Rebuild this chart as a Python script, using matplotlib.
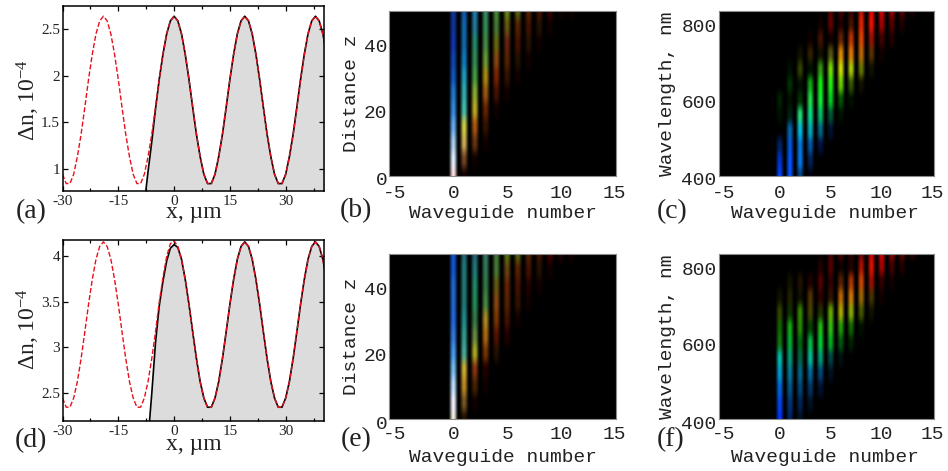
import numpy as np
import matplotlib
matplotlib.use("Agg")
import matplotlib.pyplot as plt
from matplotlib.colors import to_rgb
from matplotlib.ticker import FixedLocator
from matplotlib.transforms import ScaledTranslation

plt.rcParams['mathtext.fontset'] = 'custom'
plt.rcParams['mathtext.rm'] = 'Liberation Serif'
plt.rcParams['mathtext.default'] = 'rm'

W, H = 948, 471

# ---- profile panels (a), (d): refractive index change vs x ----
x_um = [-30, -29, -28, -27, -26, -25, -24, -23, -22, -21, -20, -19, -18, -17, -16, -15, -14, -13, -12, -11,
        -10, -9, -8, -7, -6, -5, -4, -3, -2, -1, 0, 1, 2, 3, 4, 5, 6, 7, 8, 9,
        10, 11, 12, 13, 14, 15, 16, 17, 18, 19, 20, 21, 22, 23, 24, 25, 26, 27, 28, 29,
        30, 31, 32, 33, 34, 35, 36, 37, 38, 39, 40, 41]
red_a = [0.94, 0.84, 0.84, 0.94, 1.13, 1.37, 1.66, 1.96, 2.23, 2.45, 2.59, 2.64, 2.59, 2.45, 2.23, 1.96, 1.66, 1.37, 1.13, 0.94,
         0.84, 0.84, 0.94, 1.13, 1.37, 1.66, 1.96, 2.23, 2.45, 2.59, 2.64, 2.59, 2.45, 2.23, 1.96, 1.66, 1.37, 1.13, 0.94, 0.84,
         0.84, 0.94, 1.13, 1.37, 1.66, 1.96, 2.23, 2.45, 2.59, 2.64, 2.59, 2.45, 2.23, 1.96, 1.66, 1.37, 1.13, 0.94, 0.84, 0.84,
         0.94, 1.13, 1.37, 1.66, 1.96, 2.23, 2.45, 2.59, 2.64, 2.59, 2.45, 2.23]
black_x_a = [-7.6, -7, -6, -5, -4, -3, -2, -1, 0, 1, 2, 3, 4, 5, 6, 7, 8, 9,
             10, 11, 12, 13, 14, 15, 16, 17, 18, 19, 20, 21, 22, 23, 24, 25, 26, 27, 28, 29,
             30, 31, 32, 33, 34, 35, 36, 37, 38, 39, 40, 41]
black_a = [0.76, 0.97, 1.29, 1.64, 1.96, 2.23, 2.45, 2.59, 2.64, 2.59, 2.45, 2.23, 1.96, 1.66, 1.37, 1.13, 0.94, 0.84,
           0.84, 0.94, 1.13, 1.37, 1.66, 1.96, 2.23, 2.45, 2.59, 2.64, 2.59, 2.45, 2.23, 1.96, 1.66, 1.37, 1.13, 0.94, 0.84, 0.84,
           0.94, 1.13, 1.37, 1.66, 1.96, 2.23, 2.45, 2.59, 2.64, 2.59, 2.45, 2.23]
red_d = [2.45, 2.35, 2.35, 2.45, 2.63, 2.88, 3.17, 3.47, 3.74, 3.96, 4.10, 4.15, 4.10, 3.96, 3.74, 3.47, 3.17, 2.88, 2.63, 2.45,
         2.35, 2.35, 2.45, 2.63, 2.88, 3.17, 3.49, 3.76, 3.99, 4.13, 4.16, 4.10, 3.96, 3.74, 3.47, 3.17, 2.88, 2.63, 2.45, 2.35,
         2.35, 2.45, 2.63, 2.88, 3.17, 3.47, 3.74, 3.96, 4.10, 4.15, 4.10, 3.96, 3.74, 3.47, 3.17, 2.88, 2.63, 2.45, 2.35, 2.35,
         2.45, 2.63, 2.88, 3.17, 3.47, 3.74, 3.96, 4.10, 4.15, 4.10, 3.96, 3.74]
black_x_d = [-6.6, -6, -5, -4, -3, -2, -1, 0, 1, 2, 3, 4, 5, 6, 7, 8, 9,
             10, 11, 12, 13, 14, 15, 16, 17, 18, 19, 20, 21, 22, 23, 24, 25, 26, 27, 28, 29,
             30, 31, 32, 33, 34, 35, 36, 37, 38, 39, 40, 41]
black_d = [2.20, 2.50, 3.05, 3.45, 3.72, 3.94, 4.08, 4.12, 4.09, 3.96, 3.74, 3.47, 3.17, 2.88, 2.63, 2.45, 2.35,
           2.35, 2.45, 2.63, 2.88, 3.17, 3.47, 3.74, 3.96, 4.10, 4.15, 4.10, 3.96, 3.74, 3.47, 3.17, 2.88, 2.63, 2.45, 2.35, 2.35,
           2.45, 2.63, 2.88, 3.17, 3.47, 3.74, 3.96, 4.10, 4.15, 4.10, 3.96, 3.74]
x_major = [-30, -15, 0, 15, 30]
x_minor = [-22.5, -7.5, 7.5, 22.5, 37.5]
yticks_a = [1, 1.5, 2, 2.5]
ylabels_a = ['1', '1.5', '2', '2.5']
yticks_d = [2.5, 3, 3.5, 4]
ylabels_d = ['2.5', '3', '3.5', '4']

# ---- map panels: one string per waveguide (0, 1, 2, ...), one colour per row, bottom row first ----
z_levels = [0, 5, 10, 15, 20, 25, 30, 35, 40, 45, 50]
colors_b = [
    "fdd def ace 6ae 38d 27c 15b 14a 13a 139 139",
    "100 742 ca5 cc4 4ba 3aa 29b 17b 16a 16a 15a",
    "000 100 631 a51 ba2 8a3 494 385 286 279 27a",
    "000 000 100 310 620 951 a81 693 484 385 386",
    "000 000 000 000 100 410 720 841 661 473 483",
    "000 000 000 000 000 100 310 520 621 651 681",
    "000 000 000 000 000 000 100 210 410 520 561",
    "000 000 000 000 000 000 000 100 210 410 520",
    "000 000 000 000 000 000 000 000 100 210 410",
    "000 000 000 000 000 000 000 000 000 100 300",
    "000 000 000 000 000 000 000 000 000 000 100",
    "000 000 000 000 000 000 000 000 000 000 100",
]
colors_e = [
    "eed eef bdf 7be 49e 37d 26d 26c 26c 15c 15c",
    "210 752 b82 ca3 4a9 398 288 277 277 277 267",
    "000 100 420 831 aa2 684 374 285 286 277 267",
    "000 000 100 200 730 a61 a82 484 374 375 376",
    "000 000 000 000 210 510 730 841 651 473 473",
    "000 000 000 000 000 200 410 520 620 641 571",
    "000 000 000 000 000 000 100 310 410 520 561",
    "000 000 000 000 000 000 000 100 200 410 520",
    "000 000 000 000 000 000 000 000 100 210 410",
    "000 000 000 000 000 000 000 000 000 100 400",
    "000 000 000 000 000 000 000 000 000 000 200",
    "000 000 000 000 000 000 000 000 000 000 100",
]
wavelength_levels = [400, 440, 480, 520, 560, 600, 640, 680, 720, 760, 800, 840]
colors_c = [
    "04f 03c 026 000 010 020 000 000 000 000 000 000",
    "05f 05f 05d 06a 021 010 030 010 000 000 000 000",
    "048 07e 07d 0bd 2d7 030 010 340 110 000 000 000",
    "001 025 05a 0ab 0d8 2d4 1a1 010 320 100 000 000",
    "000 000 014 068 0b6 1e3 1e1 391 110 410 100 000",
    "000 000 000 013 053 0c2 2e1 7d0 551 100 600 500",
    "000 000 000 000 010 050 6c0 cd0 d80 620 200 400",
    "000 000 000 000 000 010 350 ac0 d70 b30 410 300",
    "000 000 000 000 000 000 110 670 b60 d40 d20 b10",
    "000 000 000 000 000 000 000 110 530 910 e10 d00",
    "000 000 000 000 000 000 000 000 100 400 a00 d00",
    "000 000 000 000 000 000 000 000 000 200 500 a00",
    "000 000 000 000 000 000 000 000 000 000 200 600",
    "000 000 000 000 000 000 000 000 000 000 000 200",
]
colors_f = [
    "03f 04e 06d 09c 0ba 171 160 340 110 000 000 000",
    "026 037 058 079 097 0a3 1a1 130 220 110 000 000",
    "012 025 047 068 064 061 280 380 110 210 000 000",
    "000 012 036 069 0b9 0b4 040 440 530 200 000 000",
    "000 000 013 047 097 0c3 2b1 230 300 500 200 000",
    "000 000 000 012 044 0a2 3b1 6a0 310 300 500 400",
    "000 000 000 000 011 051 290 aa0 b60 520 100 500",
    "000 000 000 000 000 020 160 8a0 c70 a30 200 300",
    "000 000 000 000 000 000 010 450 960 c40 a10 600",
    "000 000 000 000 000 000 000 110 430 910 d10 c00",
    "000 000 000 000 000 000 000 000 100 300 a00 d00",
    "000 000 000 000 000 000 000 000 000 100 400 900",
    "000 000 000 000 000 000 000 000 000 000 200 600",
    "000 000 000 000 000 000 000 000 000 000 000 300",
]
wg_ticks = [-5, 0, 5, 10, 15]
z_ticks = [0, 20, 40]
lam_ticks = [400, 600, 800]

SERIF = 'Liberation Serif'
MONO = 'Liberation Mono'
TXT = '#222222'

fig = plt.figure(figsize=(W / 100, H / 100), dpi=100, facecolor='white')


def axes_px(l, r, t, b):
    return fig.add_axes([l / W, 1 - b / H, (r - l) / W, (b - t) / H])


def text_px(x, y, s, **kw):
    fig.text(x / W, 1 - y / H, s, **kw)


def profile(box, ylim, yt, yl, red, bx, by, ylab_y):
    ax = axes_px(*box)
    ax.fill_between(bx, by, ylim[0], color='#dcdcdc', lw=0, zorder=1)
    ax.plot(bx, by, color='black', lw=1.2, zorder=2)
    ax.plot(x_um, red, color='#e8101c', lw=1.0, dashes=(3.6, 1.6), zorder=3)
    ax.set_xlim(-30, 40.3)
    ax.set_ylim(*ylim)
    ax.xaxis.set_major_locator(FixedLocator(x_major))
    ax.xaxis.set_minor_locator(FixedLocator(x_minor))
    ax.set_xticklabels([str(v) for v in x_major], family=SERIF, fontsize=11, color=TXT)
    ax.set_yticks(yt)
    ax.set_yticklabels(yl, family=SERIF, fontsize=11, color=TXT)
    ax.tick_params(which='major', direction='in', length=3.6, width=0.9, top=True, right=True, zorder=5)
    ax.tick_params(which='minor', direction='in', length=1.9, width=0.9, top=True, right=True, zorder=5)
    ax.tick_params(axis='y', which='major', pad=1.8)
    ax.tick_params(axis='x', which='major', pad=3)
    for s in ax.spines.values():
        s.set_linewidth(1.1)
        s.set_zorder(6)
    text_px(28, ylab_y, 'Δn, 10$^{-4}$', rotation=90, ha='center', va='center', family=SERIF, fontsize=17, color=TXT)
    return ax


def colour_map(box, table, levels, ylim, yticks, ylabel, xlab_y, ylab_x, xpad):
    rows = len(levels)
    cols = 2 * len(table) + 3
    img = np.zeros((rows, cols, 3))
    for i, line in enumerate(table):
        for j, c in enumerate(line.split()):
            img[j, 2 * i + 2] = to_rgb('#' + c)
    ax = axes_px(*box)
    ax.set_facecolor('black')
    dy = (levels[1] - levels[0]) / 2
    ax.imshow(img, origin='lower', aspect='auto', interpolation='hanning',
              extent=(-1.25, (cols - 2) / 2 - 0.25, levels[0] - dy, levels[-1] + dy))
    ax.set_xlim(-6.0, 15.1)
    ax.set_ylim(*ylim)
    ax.set_xticks(wg_ticks)
    ax.set_xticklabels([str(v) for v in wg_ticks], family=MONO, fontsize=14, color=TXT)
    ax.set_yticks(yticks)
    ax.set_yticklabels([str(v) for v in yticks], family=MONO, fontsize=14, color=TXT)
    ax.tick_params(length=0)
    ax.tick_params(axis='x', pad=xpad)
    ax.tick_params(axis='y', pad=1.5)
    first = ax.get_xticklabels()[0]
    first.set_transform(first.get_transform() + ScaledTranslation(-5 / 100, 0, fig.dpi_scale_trans))
    for k, lab in enumerate(ax.get_yticklabels()):
        shift = 3 if k == 0 else 1.5
        lab.set_transform(lab.get_transform() + ScaledTranslation(0, -shift / 100, fig.dpi_scale_trans))
    for s in ax.spines.values():
        s.set_color('#8c8c8c')
        s.set_linewidth(0.8)
    text_px((box[0] + box[1]) / 2 + (0 if box[0] < 500 else -1), xlab_y, 'Waveguide number', ha='center', va='center',
            family=MONO, fontsize=14, color=TXT)
    text_px(ylab_x, (box[2] + box[3]) / 2, ylabel, rotation=90, ha='center', va='center', family=MONO, fontsize=14, color=TXT)
    return ax


profile((62.5, 324, 6, 191), (0.76, 2.75), yticks_a, ylabels_a, red_a, black_x_a, black_a, 100)
profile((62.5, 324, 240, 421), (2.2, 4.17), yticks_d, ylabels_d, red_d, black_x_d, black_d, 329)
text_px(193.5, 218, 'x, µm', ha='center', va='baseline', family=SERIF, fontsize=17, color=TXT)
text_px(193.5, 450, 'x, µm', ha='center', va='baseline', family=SERIF, fontsize=17, color=TXT)

colour_map((389.3, 615.7, 10.7, 176), colors_b, z_levels, (0, 50), z_ticks, 'Distance z', 213, 351, 6.5)
colour_map((718.7, 933.7, 10.7, 176), colors_c, wavelength_levels, (400, 835), lam_ticks, 'Wavelength, nm', 213, 668, 6.5)
colour_map((389.3, 615.7, 253.7, 419.3), colors_e, z_levels, (0, 50), z_ticks, 'Distance z', 457, 351, 5)
colour_map((718.7, 933.7, 253.7, 419.3), colors_f, wavelength_levels, (400, 835), lam_ticks, 'Wavelength, nm', 457, 668, 5)

for tag, x, y in [('(a)', 31, 212), ('(b)', 356, 211), ('(c)', 672, 212),
                  ('(d)', 31, 441), ('(e)', 356, 440), ('(f)', 671, 440)]:
    text_px(x, y, tag, ha='center', va='center', family=SERIF, fontsize=20, color=TXT)

fig.savefig('out.png', dpi=100, facecolor='white')
